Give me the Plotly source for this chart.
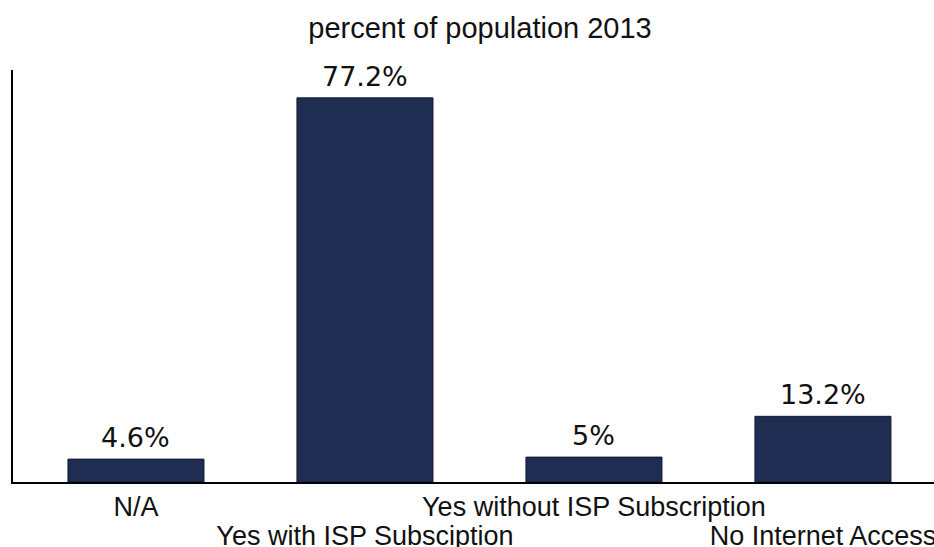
import plotly.graph_objects as go

categories = ["N/A", "Yes with ISP Subsciption", "Yes without ISP Subscription", "No Internet Access"]
values = [4.6, 77.2, 5.0, 13.2]
# staggered tick rows: 0 = upper row, 1 = lower row
tick_rows = [0, 1, 0, 1]

bar_color = "#1f2d52"
x_idx = list(range(len(categories)))
upper_text = [c if r == 0 else "" for c, r in zip(categories, tick_rows)]
lower_text = [c if r == 1 else "" for c, r in zip(categories, tick_rows)]

fig = go.Figure()
fig.add_trace(go.Bar(
    x=x_idx, y=values, width=0.594,
    marker=dict(color=bar_color, line=dict(color="#111a33", width=1)),
    hoverinfo="skip",
))
# invisible trace to activate the second (lower-row) category axis
fig.add_trace(go.Scatter(x=x_idx, y=[None] * len(x_idx), xaxis="x2",
                         mode="markers", showlegend=False, hoverinfo="skip"))

for i, v in zip(x_idx, values):
    fig.add_annotation(
        x=i, y=v, text=f"{v:g}%", showarrow=False, yanchor="bottom", yshift=4,
        font=dict(family="DejaVu Sans", size=27, color="#111111"),
    )

tick_font = dict(family="Liberation Sans", size=27, color="#111111")
fig.update_layout(
    width=934, height=547,
    margin=dict(l=13, r=0, t=70, b=65),
    plot_bgcolor="white", paper_bgcolor="white",
    showlegend=False,
    title=dict(text="percent of population 2013", x=480 / 934, xanchor="center",
               y=1 - 28 / 547, yanchor="middle", yref="container",
               font=dict(family="Liberation Sans", size=29, color="#111111")),
    xaxis=dict(
        tickmode="array", tickvals=x_idx, ticktext=upper_text, tickangle=0,
        range=[-0.537, 3.485], showline=True, linecolor="black", linewidth=2,
        showgrid=False, zeroline=False, ticks="", tickfont=tick_font,
        ticklabeloverflow="allow", automargin=False,
    ),
    xaxis2=dict(
        overlaying="x", anchor="y", side="bottom",
        tickmode="array", tickvals=x_idx, ticktext=lower_text, tickangle=0,
        range=[-0.537, 3.485], showline=False, showgrid=False, zeroline=False,
        ticks="", tickfont=tick_font, ticklabelstandoff=35,
        ticklabeloverflow="allow", automargin=False,
    ),
    yaxis=dict(
        range=[0, 82.8], showline=True, linecolor="black", linewidth=2,
        showgrid=False, zeroline=False, showticklabels=False, ticks="",
        automargin=False,
    ),
)

fig.write_html("out.html")
